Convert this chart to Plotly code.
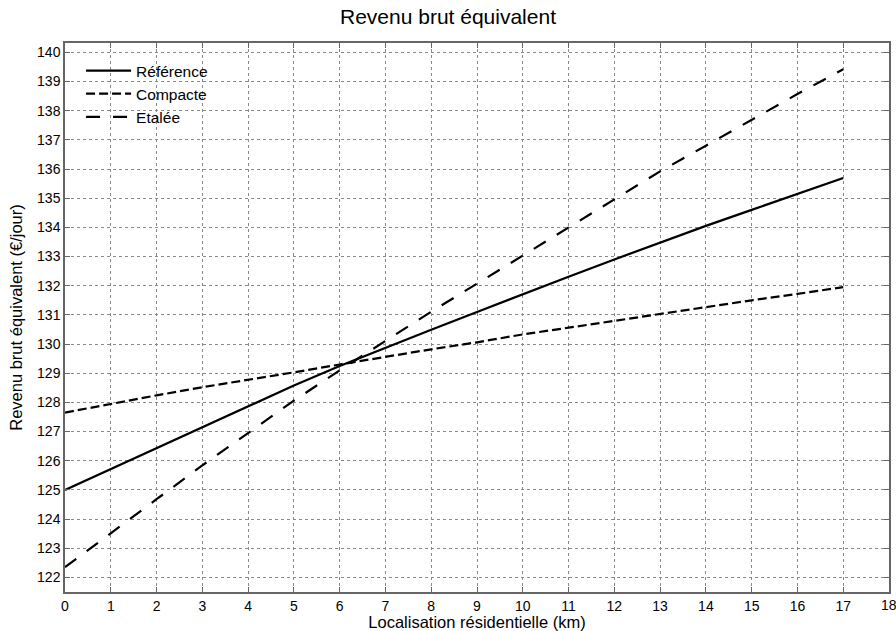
import plotly.graph_objects as go

distance_km = [0, 1, 2, 3, 4, 5, 6, 7, 8, 9, 10, 11, 12, 13, 14, 15, 16, 17]
reference = [125.0, 125.72, 126.44, 127.16, 127.88, 128.58, 129.25, 129.88, 130.49, 131.1,
             131.71, 132.31, 132.9, 133.48, 134.05, 134.6, 135.15, 135.69]
compacte = [127.65, 127.95, 128.24, 128.52, 128.77, 129.03, 129.3, 129.57, 129.82, 130.06,
            130.33, 130.56, 130.8, 131.03, 131.27, 131.5, 131.72, 131.95]
etalee = [122.35, 123.5, 124.68, 125.84, 126.94, 128.06, 129.1, 130.12, 131.11, 132.07,
          133.04, 134.0, 134.96, 135.92, 136.8, 137.7, 138.57, 139.42]

x_ticks = list(range(0, 19))
y_ticks = list(range(122, 141))

FONT = "Liberation Sans, Arial, Helvetica, sans-serif"

fig = go.Figure()
fig.add_trace(go.Scatter(x=distance_km, y=reference, mode="lines", name="Référence",
                         line=dict(color="black", width=2.2, dash="solid")))
fig.add_trace(go.Scatter(x=distance_km, y=compacte, mode="lines", name="Compacte",
                         line=dict(color="black", width=2.2, dash="9px,4px")))
fig.add_trace(go.Scatter(x=distance_km, y=etalee, mode="lines", name="Etalée",
                         line=dict(color="black", width=2.2, dash="14px,13px")))

axis_common = dict(
    showline=True, linecolor="#666666", linewidth=1.5, mirror="ticks",
    ticks="inside", ticklen=5, tickcolor="#666666", tickwidth=1,
    showgrid=True, gridcolor="#8a8a8a", gridwidth=1, griddash="dot",
    zeroline=False, automargin=False,
    tickfont=dict(family=FONT, size=14, color="black"),
)

fig.update_layout(
    width=896, height=631,
    paper_bgcolor="white", plot_bgcolor="white",
    margin=dict(l=65, r=7, t=43, b=39),
    font=dict(family=FONT, color="black"),
    title=dict(text="Revenu brut équivalent", x=0.5, xanchor="center",
               y=0.973, yanchor="middle", font=dict(family=FONT, size=21, color="black")),
    xaxis=dict(range=[0, 18], tickvals=x_ticks,
               title=dict(text="Localisation résidentielle (km)",
                          font=dict(family=FONT, size=16.5)), **axis_common),
    yaxis=dict(range=[121.5, 140.32], tickvals=y_ticks,
               title=dict(text="Revenu brut équivalent (€/jour)",
                          font=dict(family=FONT, size=16.5), standoff=10), **axis_common),
    legend=dict(x=0.0195, y=0.98, xanchor="left", yanchor="top", bgcolor="rgba(0,0,0,0)",
                borderwidth=0, font=dict(family=FONT, size=15.5, color="black"),
                tracegroupgap=0, itemwidth=45),
    showlegend=True,
)

# last x tick label, partly cut by the right edge as in the original
fig.add_annotation(x=x_ticks[-1], y=0, xref="x", yref="paper", yanchor="top", yshift=-3,
                   text=str(x_ticks[-1]), showarrow=False,
                   font=dict(family=FONT, size=14, color="black"))

fig.write_html("out.html", config={"displayModeBar": False},
               post_script="document.body.style.margin='0';document.body.style.padding='0';")
